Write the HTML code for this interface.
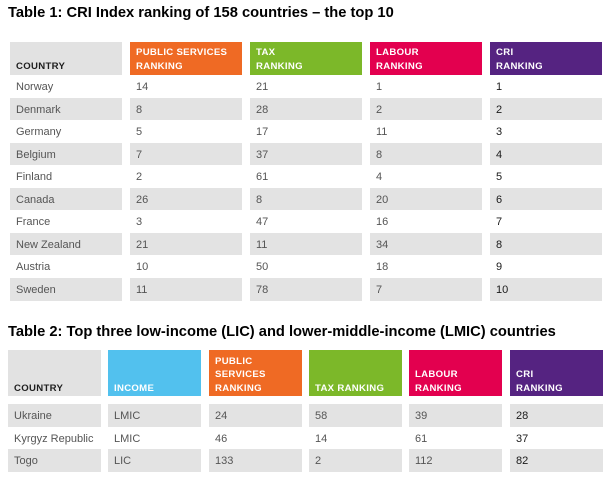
<!DOCTYPE html>
<html><head><meta charset="utf-8"><style>
*{margin:0;padding:0;box-sizing:border-box}
body{width:613px;height:487px;background:#fff;position:relative;overflow:hidden;font-family:"Liberation Sans",Arial,sans-serif}
.t{position:absolute;left:8px;font-weight:bold;font-size:14.7px;color:#000;white-space:nowrap}
.h{position:absolute;color:#fff;font-weight:bold;font-size:9.6px;line-height:13.3px;letter-spacing:0.3px;padding:0 6px 2px 6px;display:flex;flex-direction:column;justify-content:flex-end}
.c{position:absolute;font-size:11px;color:#555;line-height:22.5px;padding-left:6px;padding-top:1px;white-space:nowrap}
.g{background:#e3e3e3}
.d{color:#1a1a1a}
</style></head><body>
<div class="t" style="top:5px">Table 1: CRI Index ranking of 158 countries – the top 10</div>

<div class="h" style="left:10px;top:42px;width:112px;height:33px;background:#e2e2e2;color:#1e1e1e">COUNTRY</div>
<div class="h" style="left:130px;top:42px;width:112px;height:33px;background:#ef6a24"><span>PUBLIC SERVICES</span><span>RANKING</span></div>
<div class="h" style="left:250px;top:42px;width:112px;height:33px;background:#7cb829"><span>TAX</span><span>RANKING</span></div>
<div class="h" style="left:370px;top:42px;width:112px;height:33px;background:#e3004f"><span>LABOUR</span><span>RANKING</span></div>
<div class="h" style="left:490px;top:42px;width:112px;height:33px;background:#552381"><span>CRI</span><span>RANKING</span></div>

<div class="c" style="left:10px;top:75px;width:112px;height:22.5px">Norway</div>
<div class="c" style="left:130px;top:75px;width:112px;height:22.5px">14</div>
<div class="c" style="left:250px;top:75px;width:112px;height:22.5px">21</div>
<div class="c" style="left:370px;top:75px;width:112px;height:22.5px">1</div>
<div class="c d" style="left:490px;top:75px;width:112px;height:22.5px">1</div>

<div class="c g" style="left:10px;top:97.5px;width:112px;height:22.5px">Denmark</div>
<div class="c g" style="left:130px;top:97.5px;width:112px;height:22.5px">8</div>
<div class="c g" style="left:250px;top:97.5px;width:112px;height:22.5px">28</div>
<div class="c g" style="left:370px;top:97.5px;width:112px;height:22.5px">2</div>
<div class="c g d" style="left:490px;top:97.5px;width:112px;height:22.5px">2</div>

<div class="c" style="left:10px;top:120px;width:112px;height:22.5px">Germany</div>
<div class="c" style="left:130px;top:120px;width:112px;height:22.5px">5</div>
<div class="c" style="left:250px;top:120px;width:112px;height:22.5px">17</div>
<div class="c" style="left:370px;top:120px;width:112px;height:22.5px">11</div>
<div class="c d" style="left:490px;top:120px;width:112px;height:22.5px">3</div>

<div class="c g" style="left:10px;top:142.5px;width:112px;height:22.5px">Belgium</div>
<div class="c g" style="left:130px;top:142.5px;width:112px;height:22.5px">7</div>
<div class="c g" style="left:250px;top:142.5px;width:112px;height:22.5px">37</div>
<div class="c g" style="left:370px;top:142.5px;width:112px;height:22.5px">8</div>
<div class="c g d" style="left:490px;top:142.5px;width:112px;height:22.5px">4</div>

<div class="c" style="left:10px;top:165px;width:112px;height:22.5px">Finland</div>
<div class="c" style="left:130px;top:165px;width:112px;height:22.5px">2</div>
<div class="c" style="left:250px;top:165px;width:112px;height:22.5px">61</div>
<div class="c" style="left:370px;top:165px;width:112px;height:22.5px">4</div>
<div class="c d" style="left:490px;top:165px;width:112px;height:22.5px">5</div>

<div class="c g" style="left:10px;top:187.5px;width:112px;height:22.5px">Canada</div>
<div class="c g" style="left:130px;top:187.5px;width:112px;height:22.5px">26</div>
<div class="c g" style="left:250px;top:187.5px;width:112px;height:22.5px">8</div>
<div class="c g" style="left:370px;top:187.5px;width:112px;height:22.5px">20</div>
<div class="c g d" style="left:490px;top:187.5px;width:112px;height:22.5px">6</div>

<div class="c" style="left:10px;top:210px;width:112px;height:22.5px">France</div>
<div class="c" style="left:130px;top:210px;width:112px;height:22.5px">3</div>
<div class="c" style="left:250px;top:210px;width:112px;height:22.5px">47</div>
<div class="c" style="left:370px;top:210px;width:112px;height:22.5px">16</div>
<div class="c d" style="left:490px;top:210px;width:112px;height:22.5px">7</div>

<div class="c g" style="left:10px;top:232.5px;width:112px;height:22.5px">New Zealand</div>
<div class="c g" style="left:130px;top:232.5px;width:112px;height:22.5px">21</div>
<div class="c g" style="left:250px;top:232.5px;width:112px;height:22.5px">11</div>
<div class="c g" style="left:370px;top:232.5px;width:112px;height:22.5px">34</div>
<div class="c g d" style="left:490px;top:232.5px;width:112px;height:22.5px">8</div>

<div class="c" style="left:10px;top:255px;width:112px;height:22.5px">Austria</div>
<div class="c" style="left:130px;top:255px;width:112px;height:22.5px">10</div>
<div class="c" style="left:250px;top:255px;width:112px;height:22.5px">50</div>
<div class="c" style="left:370px;top:255px;width:112px;height:22.5px">18</div>
<div class="c d" style="left:490px;top:255px;width:112px;height:22.5px">9</div>

<div class="c g" style="left:10px;top:277.5px;width:112px;height:23px">Sweden</div>
<div class="c g" style="left:130px;top:277.5px;width:112px;height:23px">11</div>
<div class="c g" style="left:250px;top:277.5px;width:112px;height:23px">78</div>
<div class="c g" style="left:370px;top:277.5px;width:112px;height:23px">7</div>
<div class="c g d" style="left:490px;top:277.5px;width:112px;height:23px">10</div>

<div class="t" style="top:324px">Table 2: Top three low-income (LIC) and lower-middle-income (LMIC) countries</div>

<div class="h" style="left:8px;top:350px;width:93px;height:46px;background:#e2e2e2;color:#1e1e1e;padding-bottom:1px">COUNTRY</div>
<div class="h" style="left:108px;top:350px;width:93px;height:46px;background:#52c1ee;padding-bottom:1px">INCOME</div>
<div class="h" style="left:209px;top:350px;width:93px;height:46px;background:#ef6a24;padding-bottom:1px"><span>PUBLIC</span><span>SERVICES</span><span>RANKING</span></div>
<div class="h" style="left:309px;top:350px;width:93px;height:46px;background:#7cb829;padding-bottom:1px">TAX RANKING</div>
<div class="h" style="left:409px;top:350px;width:93px;height:46px;background:#e3004f;padding-bottom:1px"><span>LABOUR</span><span>RANKING</span></div>
<div class="h" style="left:510px;top:350px;width:93px;height:46px;background:#552381;padding-bottom:1px"><span>CRI</span><span>RANKING</span></div>

<div class="c g" style="left:8px;top:404px;width:93px;height:22.5px">Ukraine</div>
<div class="c g" style="left:108px;top:404px;width:93px;height:22.5px">LMIC</div>
<div class="c g" style="left:209px;top:404px;width:93px;height:22.5px">24</div>
<div class="c g" style="left:309px;top:404px;width:93px;height:22.5px">58</div>
<div class="c g" style="left:409px;top:404px;width:93px;height:22.5px">39</div>
<div class="c g d" style="left:510px;top:404px;width:93px;height:22.5px">28</div>

<div class="c" style="left:8px;top:426.5px;width:93px;height:22.5px">Kyrgyz Republic</div>
<div class="c" style="left:108px;top:426.5px;width:93px;height:22.5px">LMIC</div>
<div class="c" style="left:209px;top:426.5px;width:93px;height:22.5px">46</div>
<div class="c" style="left:309px;top:426.5px;width:93px;height:22.5px">14</div>
<div class="c" style="left:409px;top:426.5px;width:93px;height:22.5px">61</div>
<div class="c d" style="left:510px;top:426.5px;width:93px;height:22.5px">37</div>

<div class="c g" style="left:8px;top:449px;width:93px;height:22.5px">Togo</div>
<div class="c g" style="left:108px;top:449px;width:93px;height:22.5px">LIC</div>
<div class="c g" style="left:209px;top:449px;width:93px;height:22.5px">133</div>
<div class="c g" style="left:309px;top:449px;width:93px;height:22.5px">2</div>
<div class="c g" style="left:409px;top:449px;width:93px;height:22.5px">112</div>
<div class="c g d" style="left:510px;top:449px;width:93px;height:22.5px">82</div>
</body></html>
